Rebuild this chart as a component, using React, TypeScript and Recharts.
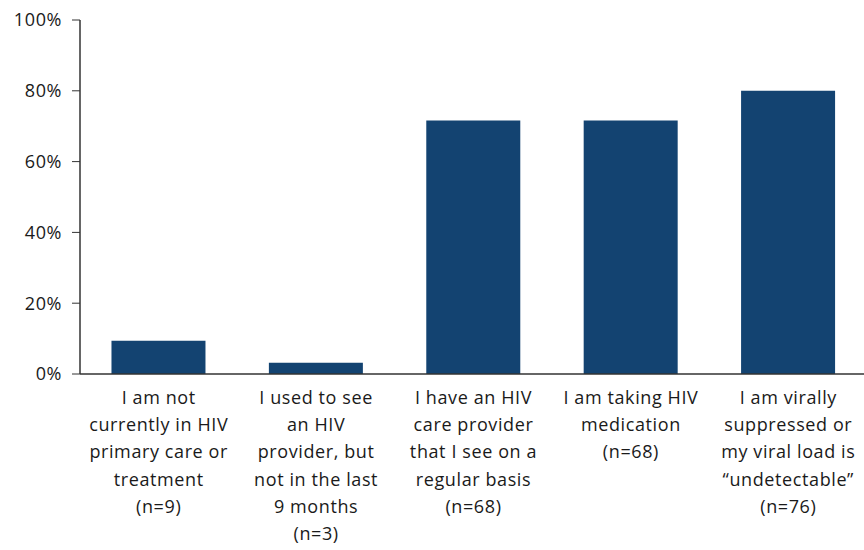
import { BarChart, Bar, XAxis, YAxis } from 'recharts'

const categories = [
  ['I am not', 'currently in HIV', 'primary care or', 'treatment', '(n=9)'],
  ['I used to see', 'an HIV', 'provider, but', 'not in the last', '9 months', '(n=3)'],
  ['I have an HIV', 'care provider', 'that I see on a', 'regular basis', '(n=68)'],
  ['I am taking HIV', 'medication', '(n=68)'],
  ['I am virally', 'suppressed or', 'my viral load is', '\u201cundetectable\u201d', '(n=76)'],
]
const percents = [9.4, 3.2, 71.6, 71.6, 80]
const yTicks = [0, 20, 40, 60, 80, 100]

const data = categories.map((lines, i) => ({ key: String(i), value: percents[i] }))

const FONT = '"Open Sans", sans-serif'
const BAR_COLOR = '#134371'

function CategoryTick(props: any) {
  const { x, y, payload } = props
  const lines = categories[Number(payload.value)]
  return (
    <text
      x={x}
      y={y + 22}
      textAnchor="middle"
      fill="#1a1a1a"
      fontSize={18}
      letterSpacing={0.6}
      fontFamily={FONT}
    >
      {lines.map((line, i) => (
        <tspan key={i} x={x} dy={i === 0 ? 0 : 27.2}>
          {line}
        </tspan>
      ))}
    </text>
  )
}

export default function App() {
  return (
    <div style={{ position: 'absolute', left: 0, top: 0, width: 864, height: 550, background: '#fff' }}>
      <BarChart
        width={864}
        height={550}
        data={data}
        margin={{ top: 20, right: -3, bottom: 0, left: 8 }}
        barCategoryGap="20%"
      >
        <YAxis
          width={72}
          domain={[0, 100]}
          ticks={yTicks}
          tickFormatter={(v) => `${v}%`}
          tickSize={8}
          tickMargin={10}
          stroke="#333"
          tick={{ fill: '#1a1a1a', fontSize: 18, fontFamily: FONT, letterSpacing: 0.6 }}
          tickLine={{ stroke: '#333' }}
          axisLine={{ stroke: '#333', strokeWidth: 1.5 }}
        />
        <XAxis
          dataKey="key"
          height={176}
          tickLine={false}
          axisLine={{ stroke: '#333', strokeWidth: 1.5 }}
          tick={<CategoryTick />}
          interval={0}
        />
        <Bar dataKey="value" fill={BAR_COLOR} isAnimationActive={false} />
      </BarChart>
    </div>
  )
}
